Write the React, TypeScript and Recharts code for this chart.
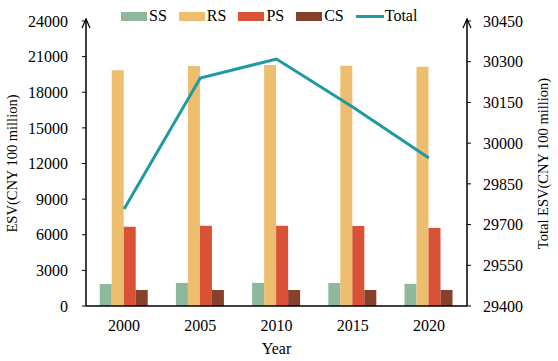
import { ComposedChart, Bar, Line, XAxis, YAxis, Label } from 'recharts';

const years = ['2000', '2005', '2010', '2015', '2020'];
const ss = [1850, 1940, 1950, 1940, 1870];
const rs = [19850, 20210, 20290, 20240, 20150];
const ps = [6680, 6760, 6760, 6740, 6570];
const cs = [1350, 1350, 1350, 1350, 1350];
const total = [29757, 30240, 30310, 30133, 29945];

const leftTicks = [0, 3000, 6000, 9000, 12000, 15000, 18000, 21000, 24000];
const rightTicks = [29400, 29550, 29700, 29850, 30000, 30150, 30300, 30450];

const COLORS = { SS: '#8DB89C', RS: '#EDBE6D', PS: '#DA5236', CS: '#86402B', Total: '#1E9AA2' };
const FONT = '"Liberation Serif", "Times New Roman", serif';

const data = years.map((year, i) => ({
  year,
  SS: ss[i],
  RS: rs[i],
  PS: ps[i],
  CS: cs[i],
  Total: total[i],
}));

const legendItems = [
  { name: 'SS', type: 'bar' },
  { name: 'RS', type: 'bar' },
  { name: 'PS', type: 'bar' },
  { name: 'CS', type: 'bar' },
  { name: 'Total', type: 'line' },
];

const tickStyle = { fill: '#000', fontSize: 16, fontFamily: FONT };
const titleStyle = { fill: '#000', fontSize: 14.5, fontFamily: FONT, textAnchor: 'middle' as const, whiteSpace: 'pre' as const };

const App = () => {
  return (
    <div style={{ position: 'absolute', left: 0, top: 0, width: 558, height: 361, background: '#fff', fontFamily: FONT }}>
      <ComposedChart
        width={558}
        height={361}
        data={data}
        margin={{ top: 21, right: 0, bottom: 0, left: 0 }}
        barGap={0}
        barCategoryGap="18%"
      >
        <XAxis
          dataKey="year"
          height={55}
          axisLine={{ stroke: '#000', strokeWidth: 1.5 }}
          tickLine={false}
          tick={tickStyle}
          tickMargin={8}
        >
          <Label value="Year" position="insideBottom" offset={7} style={{ fill: '#000', fontSize: 16, fontFamily: FONT }} />
        </XAxis>
        <YAxis
          yAxisId="left"
          width={86}
          domain={[0, 24000]}
          ticks={leftTicks}
          interval={0}
          axisLine={{ stroke: '#000', strokeWidth: 1.5 }}
          tickLine={{ stroke: '#000' }}
          tickSize={4}
          tickMargin={14}
          tick={tickStyle}
        >
          <Label value="ESV(CNY 100 million)" angle={-90} position="insideLeft" offset={12} style={titleStyle} />
        </YAxis>
        <YAxis
          yAxisId="right"
          orientation="right"
          width={91}
          domain={[29400, 30450]}
          ticks={rightTicks}
          interval={0}
          axisLine={{ stroke: '#000', strokeWidth: 1.5 }}
          tickLine={{ stroke: '#000' }}
          tickSize={4}
          tickMargin={12}
          tick={tickStyle}
        >
          <Label value="Total  ESV(CNY 100 million)" angle={-90} position="insideRight" offset={15} style={titleStyle} />
        </YAxis>
        <Bar yAxisId="left" dataKey="SS" fill={COLORS.SS} isAnimationActive={false} />
        <Bar yAxisId="left" dataKey="RS" fill={COLORS.RS} isAnimationActive={false} />
        <Bar yAxisId="left" dataKey="PS" fill={COLORS.PS} isAnimationActive={false} />
        <Bar yAxisId="left" dataKey="CS" fill={COLORS.CS} isAnimationActive={false} />
        <Line
          yAxisId="right"
          dataKey="Total"
          stroke={COLORS.Total}
          strokeWidth={3}
          dot={false}
          type="linear"
          isAnimationActive={false}
        />
      </ComposedChart>

      {/* arrow heads on top of both value axes */}
      <svg width={558} height={361} style={{ position: 'absolute', left: 0, top: 0, pointerEvents: 'none' }}>
        <polyline points="82,28 86,19 90,28" fill="none" stroke="#000" strokeWidth={1.2} />
        <line x1={86} y1={19} x2={86} y2={22} stroke="#000" strokeWidth={1.5} />
        <polyline points="463,28 467,19 471,28" fill="none" stroke="#000" strokeWidth={1.2} />
        <line x1={467} y1={19} x2={467} y2={22} stroke="#000" strokeWidth={1.5} />
      </svg>

      <div style={{ position: 'absolute', left: 121, top: 6, display: 'flex', alignItems: 'center', fontSize: 16, color: '#000', lineHeight: '20px' }}>
        {legendItems.map((item) => (
          <div key={item.name} style={{ display: 'flex', alignItems: 'center', marginRight: 12 }}>
            {item.type === 'bar' ? (
              <div style={{ width: 26, height: 9, background: COLORS[item.name as keyof typeof COLORS], marginRight: 2 }} />
            ) : (
              <div style={{ width: 28, height: 3, background: COLORS.Total, marginRight: 1 }} />
            )}
            <span>{item.name}</span>
          </div>
        ))}
      </div>
    </div>
  );
};

export default App;
